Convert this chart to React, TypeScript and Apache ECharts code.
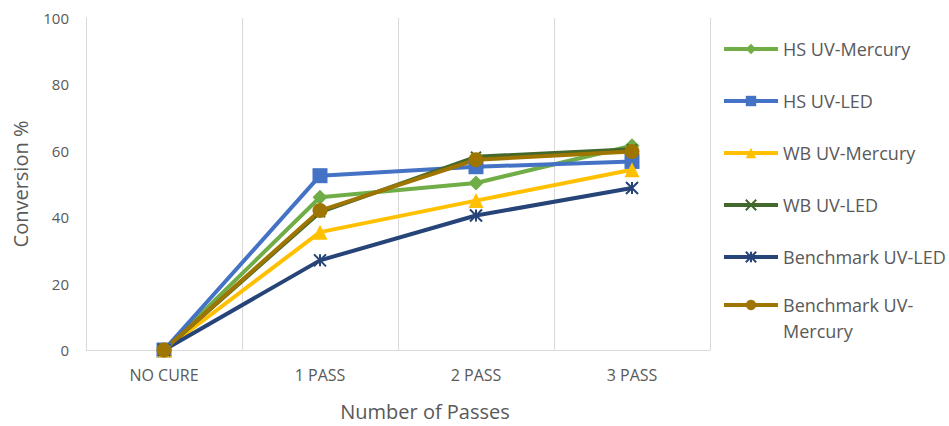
import React, { useEffect, useRef } from "react";
import * as echarts from "echarts";

const categories = ["NO CURE", "1 PASS", "2 PASS", "3 PASS"];
const hsMercury = [0, 46, 50.3, 61.5];
const hsLed = [0, 52.5, 55.2, 56.8];
const wbMercury = [0, 35.5, 45, 54.3];
const wbLed = [0, 41.5, 58.2, 60.5];
const benchLed = [0, 27, 40.5, 48.8];
const benchMercury = [0, 42, 57.3, 59.8];
const yTicks = { min: 0, max: 100, interval: 20 };

const FONT = "'Open Sans', 'Noto Sans', sans-serif";
const GREY = "#595959";

export default function App() {
  const ref = useRef<HTMLDivElement>(null);
  useEffect(() => {
    const chart = echarts.init(ref.current!, null, { renderer: "svg" });
    const mk = (name: string, data: number[], color: string, symbol: string, size: number, stroke = false) => ({
      name,
      type: "line",
      data,
      symbol,
      symbolSize: size,
      lineStyle: { color, width: 4 },
      itemStyle: stroke
        ? { color, borderColor: color, borderWidth: 2 }
        : { color, borderWidth: 0 },
      z: 2,
    });
    const legendBase = {
      orient: "vertical",
      left: 722,
      padding: 0,
      itemWidth: 54,
      itemHeight: 13,
      lineStyle: { width: 4 },
    };
    chart.setOption({
      animation: false,
      textStyle: { fontFamily: FONT },
      grid: { left: 86, right: 239, top: 18, bottom: 74 },
      xAxis: {
        type: "category",
        data: categories,
        boundaryGap: true,
        axisTick: { show: false },
        axisLine: { lineStyle: { color: "#D9D9D9", width: 1 } },
        splitLine: { show: true, lineStyle: { color: "#D9D9D9", width: 1 } },
        axisLabel: { color: GREY, fontSize: 16, margin: 17, fontFamily: FONT },
        name: "Number of Passes",
        nameLocation: "middle",
        nameGap: 51,
        nameTextStyle: { color: GREY, fontSize: 20, fontFamily: FONT, padding: [0, 0, 0, 54] },
      },
      yAxis: {
        type: "value",
        min: yTicks.min,
        max: yTicks.max,
        interval: yTicks.interval,
        splitLine: { show: false },
        axisLine: { show: true, lineStyle: { color: "#D9D9D9", width: 1 } },
        axisTick: { show: false },
        axisLabel: { color: GREY, fontSize: 15, margin: 17, fontFamily: FONT },
        name: "Conversion %",
        nameLocation: "middle",
        nameGap: 56,
        nameTextStyle: { color: GREY, fontSize: 20, fontFamily: FONT },
      },
      legend: [
        {
          ...legendBase,
          top: 39,
          itemGap: 32,
          textStyle: { color: GREY, fontSize: 18, lineHeight: 20, fontFamily: FONT },
          data: ["HS UV-Mercury", "HS UV-LED", "WB UV-Mercury", "WB UV-LED", "Benchmark UV-LED"],
        },
        {
          ...legendBase,
          top: 270,
          textStyle: {
            color: GREY,
            fontSize: 18,
            fontFamily: FONT,
            rich: { a: { color: GREY, fontSize: 18, lineHeight: 26, fontFamily: FONT } },
          },
          formatter: () => "{a| }\n{a|Benchmark UV-}\n{a|Mercury}",
          data: ["Benchmark UV-Mercury"],
        },
      ],
      series: [
        mk("HS UV-Mercury", hsMercury, "#70AD47", "diamond", 15),
        mk("HS UV-LED", hsLed, "#4472C4", "rect", 15),
        mk("WB UV-Mercury", wbMercury, "#FFC000", "triangle", 15),
        mk("WB UV-LED", wbLed, "#43682B", "path://M0,0L10,10M10,0L0,10", 10, true),
        mk("Benchmark UV-LED", benchLed, "#264478", "path://M0,0L10,10M10,0L0,10M5,0L5,10", 12, true),
        mk("Benchmark UV-Mercury", benchMercury, "#9E7500", "circle", 15),
      ],
    });
    return () => chart.dispose();
  }, []);
  return (
    <div
      ref={ref}
      style={{ position: "absolute", left: 0, top: 0, width: 949, height: 426, background: "#fff" }}
    />
  );
}
